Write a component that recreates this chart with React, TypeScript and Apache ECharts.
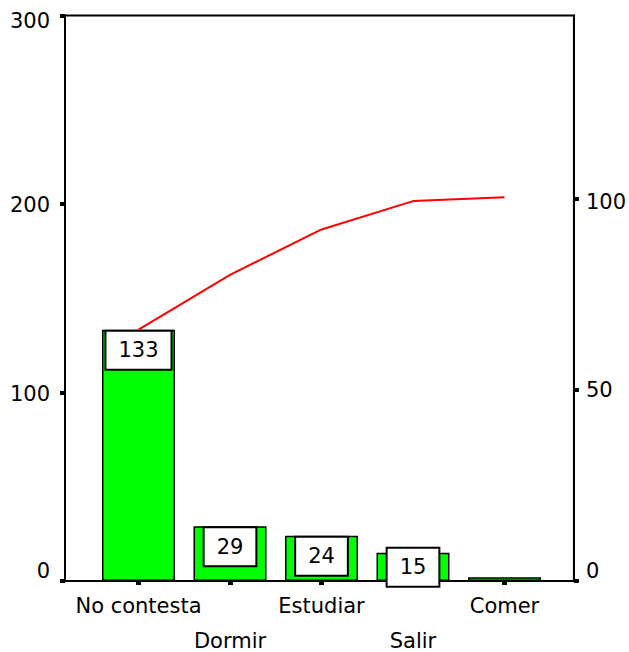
import React, { useEffect, useRef } from "react";
import * as echarts from "echarts";

const categories = ["No contesta", "Dormir", "Estudiar", "Salir", "Comer"];
const counts = [133, 29, 24, 15, 2];
const leftTicks = [0, 100, 200, 300];
const rightTicks = [0, 50, 100];

const FONT = "DejaVu Sans";

export default function App() {
  const ref = useRef<HTMLDivElement>(null);

  useEffect(() => {
    if (!ref.current) return;
    const chart = echarts.init(ref.current, null, { renderer: "svg" });

    const total = counts.reduce((a, b) => a + b, 0);
    let run = 0;
    const cumPct = counts.map((c) => {
      run += c;
      return (run / total) * 100;
    });
    const leftMax = leftTicks[leftTicks.length - 1];
    const pctMax = (leftMax / total) * 100;

    const frameGrid = { left: 65, top: 14, width: 512, height: 567 };
    const bandGrid = { left: 92.75, top: 14, width: 457.5, height: 567 };

    const tickStyle = { show: true, inside: false, length: 5, lineStyle: { color: "#000", width: 4 } };
    const labelBase = { color: "#000", fontSize: 21, fontFamily: FONT, lineHeight: 21 };

    chart.setOption({
      animation: false,
      backgroundColor: "#fff",
      grid: [
        { ...frameGrid, show: true, borderColor: "#000", borderWidth: 2, backgroundColor: "transparent" },
        { ...bandGrid, show: false },
      ],
      xAxis: [
        { gridIndex: 0, type: "value", min: 0, max: 1, show: false },
        {
          gridIndex: 1,
          type: "category",
          data: categories,
          boundaryGap: true,
          axisLine: { show: false },
          axisTick: { show: true, alignWithLabel: true, length: 4, lineStyle: { color: "#000", width: 5 } },
          splitLine: { show: false },
          axisLabel: {
            interval: 0,
            margin: 14,
            ...labelBase,
            formatter: (v: string, i: number) => (i % 2 ? `{b|${v}}` : `{a|${v}}`),
            rich: {
              a: { ...labelBase },
              b: { ...labelBase, padding: [70, 0, 0, 0] },
            },
          },
        },
      ],
      yAxis: [
        {
          gridIndex: 0,
          type: "value",
          position: "left",
          min: 0,
          max: leftMax,
          interval: 100,
          axisLine: { show: true, lineStyle: { color: "#000", width: 2 } },
          axisTick: tickStyle,
          splitLine: { show: false },
          axisLabel: {
            margin: 15,
            ...labelBase,
            formatter: (v: number) => (v === 0 ? `{z|${v}}` : v === leftMax ? `{t|${v}}` : `{n|${v}}`),
            rich: {
              z: { ...labelBase, padding: [0, 0, 20, 0] },
              t: { ...labelBase, padding: [10, 0, 0, 0] },
              n: { ...labelBase, padding: [2, 0, 0, 0] },
            },
          },
        },
        {
          gridIndex: 0,
          type: "value",
          position: "right",
          min: 0,
          max: pctMax,
          axisLine: { show: true, lineStyle: { color: "#000", width: 2 } },
          axisTick: { ...tickStyle, customValues: rightTicks },
          splitLine: { show: false },
          axisLabel: {
            margin: 12,
            customValues: rightTicks,
            ...labelBase,
            formatter: (v: number) => (v === 0 ? `{z|${v}}` : v === 100 ? `{t|${v}}` : `{n|${v}}`),
            rich: {
              z: { ...labelBase, padding: [0, 0, 20, 0] },
              t: { ...labelBase, padding: [7, 0, 0, 0] },
              n: { ...labelBase, padding: [1, 0, 0, 0] },
            },
          },
        },
        { gridIndex: 1, type: "value", min: 0, max: leftMax, show: false },
        { gridIndex: 1, type: "value", min: 0, max: pctMax, show: false },
      ],
      series: [
        {
          type: "bar",
          xAxisIndex: 1,
          yAxisIndex: 2,
          barWidth: 73,
          data: counts.map((v) => ({
            value: v,
            label: { show: v >= 5, offset: v < 20 ? [0, -6] : [0, 0] },
          })),
          itemStyle: { color: "#00ff00", borderColor: "#000", borderWidth: 1.5 },
          label: {
            show: true,
            position: "insideTop",
            distance: 2,
            formatter: "{c}",
            ...labelBase,
            backgroundColor: "#fff",
            borderColor: "#000",
            borderWidth: 2,
            padding: [8, 12],
          },
          z: 2,
        },
        {
          type: "line",
          xAxisIndex: 1,
          yAxisIndex: 3,
          data: cumPct,
          showSymbol: false,
          symbol: "none",
          lineStyle: { color: "#ff0000", width: 2 },
          z: 3,
        },
      ],
    });

    return () => chart.dispose();
  }, []);

  return (
    <div
      ref={ref}
      style={{ position: "fixed", left: 0, top: 0, width: 629, height: 652, background: "#fff" }}
    />
  );
}
